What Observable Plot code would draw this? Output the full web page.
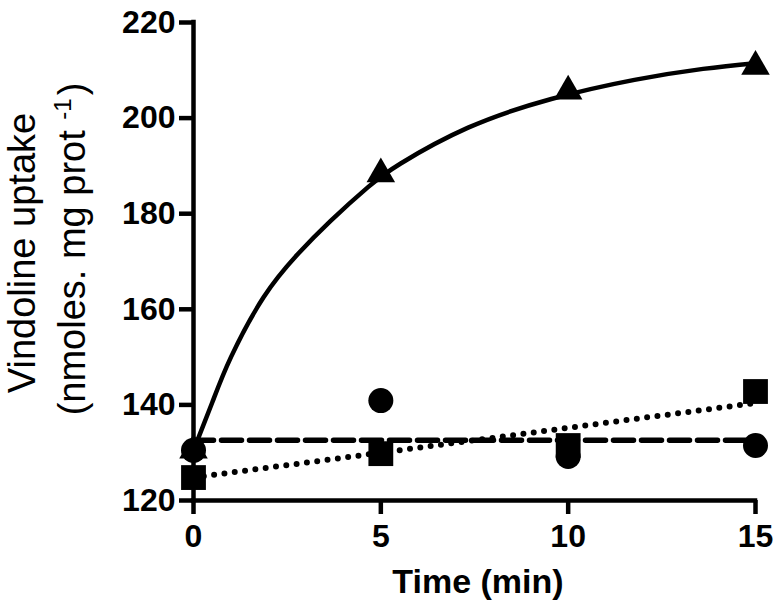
<!DOCTYPE html>
<html><head><meta charset="utf-8">
<script src="https://cdn.jsdelivr.net/npm/d3@7"></script>
<script src="https://cdn.jsdelivr.net/npm/@observablehq/plot@0.6"></script>
<style>body{margin:0;background:#fff;} svg{display:block}</style>
</head><body><div id="chart"></div>
<script>
// ---- data ----
const times = [0, 5, 10, 15];
const triangleValues = [130.5, 188.3, 205.6, 210.8];
const circleValues = [130.5, 140.9, 129.2, 131.5];
const squareValues = [124.8, 129.8, 131.5, 142.8];
// fitted curves, points
const solidFitX = [0, 0.5, 1, 1.87, 2.78, 3.66, 4.65, 5.53, 7.33, 9.55, 11.77, 13.6, 15];
const solidFitY = [130.5, 140.5, 150, 162.5, 171.5, 178.5, 185.5, 190.5, 198, 204, 208, 210.3, 211.5];
const dashedFitX = [0, 15];
const dashedFitY = [132.6, 132.6];
const dottedFitX = [0, 15];
const dottedFitY = [124.8, 140.4];
const xTicks = [0, 5, 10, 15];
const yTicks = [120, 140, 160, 180, 200, 220];
const xTitle = "Time (min)";
const yTitle1 = "Vindoline uptake";
const yTitle2 = "(nmoles. mg prot ";
const yTitleSup = "-1";
const yTitleEnd = ")";

const pts = vals => times.map((t, i) => ({x: t, y: vals[i]}));
const fit = (xs, ys) => xs.map((x, i) => ({x, y: ys[i]}));

const chart = Plot.plot({
  width: 778, height: 615,
  marginLeft: 193, marginRight: 23, marginTop: 22, marginBottom: 115,
  x: {domain: [0, 15]},
  y: {domain: [120, 220]},
  style: {fontFamily: "'Liberation Sans', Arial, sans-serif", fontWeight: "bold", background: "white", color: "black"},
  marks: [
    Plot.axisX({ticks: xTicks, tickSize: 14, tickPadding: 10, fontSize: 32, fontWeight: "bold", strokeWidth: 4.5, label: null, tickFormat: d => String(d)}),
    Plot.axisY({ticks: yTicks, tickSize: 14, tickPadding: 4, fontSize: 32, fontWeight: "bold", strokeWidth: 4.5, label: null, tickFormat: d => String(d)}),
    Plot.ruleX([0], {y1: 120, y2: 220, strokeWidth: 4.5, strokeLinecap: "square"}),
    Plot.ruleY([120], {x1: 0, x2: 15, strokeWidth: 4.5, strokeLinecap: "square"}),
    Plot.line(fit(solidFitX, solidFitY), {x: "x", y: "y", curve: "natural", strokeWidth: 4.5, stroke: "black"}),
    Plot.line(fit(dashedFitX, dashedFitY), {x: "x", y: "y", strokeWidth: 5.5, stroke: "black", strokeDasharray: "20,8"}),
    Plot.line(fit(dottedFitX, dottedFitY), {x: "x", y: "y", strokeWidth: 6, stroke: "black", strokeDasharray: "0,10.4", strokeLinecap: "round"}),
    Plot.dot(pts(triangleValues), {x: "x", y: "y", symbol: "triangle", r: 10.6, fill: "black", stroke: "none"}),
    Plot.dot(pts(squareValues), {x: "x", y: "y", symbol: "square", r: 14, fill: "black", stroke: "none"}),
    Plot.dot(pts(circleValues), {x: "x", y: "y", symbol: "circle", r: 12.5, fill: "black", stroke: "none"})
  ]
});

const svg = d3.select(chart);
svg.append("text")
  .attr("x", 478).attr("y", 593)
  .attr("text-anchor", "middle")
  .attr("font-size", 34).attr("font-weight", "bold")
  .attr("fill", "black")
  .text(xTitle);

svg.append("text")
  .attr("transform", "translate(35,253) rotate(-90)")
  .attr("text-anchor", "middle")
  .attr("font-size", 38).attr("font-weight", "normal")
  .attr("fill", "black")
  .text(yTitle1);

const t2 = svg.append("text")
  .attr("transform", "translate(85,249) rotate(-90)")
  .attr("text-anchor", "middle")
  .attr("font-size", 38).attr("font-weight", "normal")
  .attr("fill", "black");
t2.append("tspan").text(yTitle2);
t2.append("tspan").attr("font-size", 24).attr("dy", -14).text(yTitleSup);
t2.append("tspan").attr("dy", 14).attr("dx", 3).text(yTitleEnd);

document.getElementById("chart").appendChild(chart);
</script>
</body></html>
